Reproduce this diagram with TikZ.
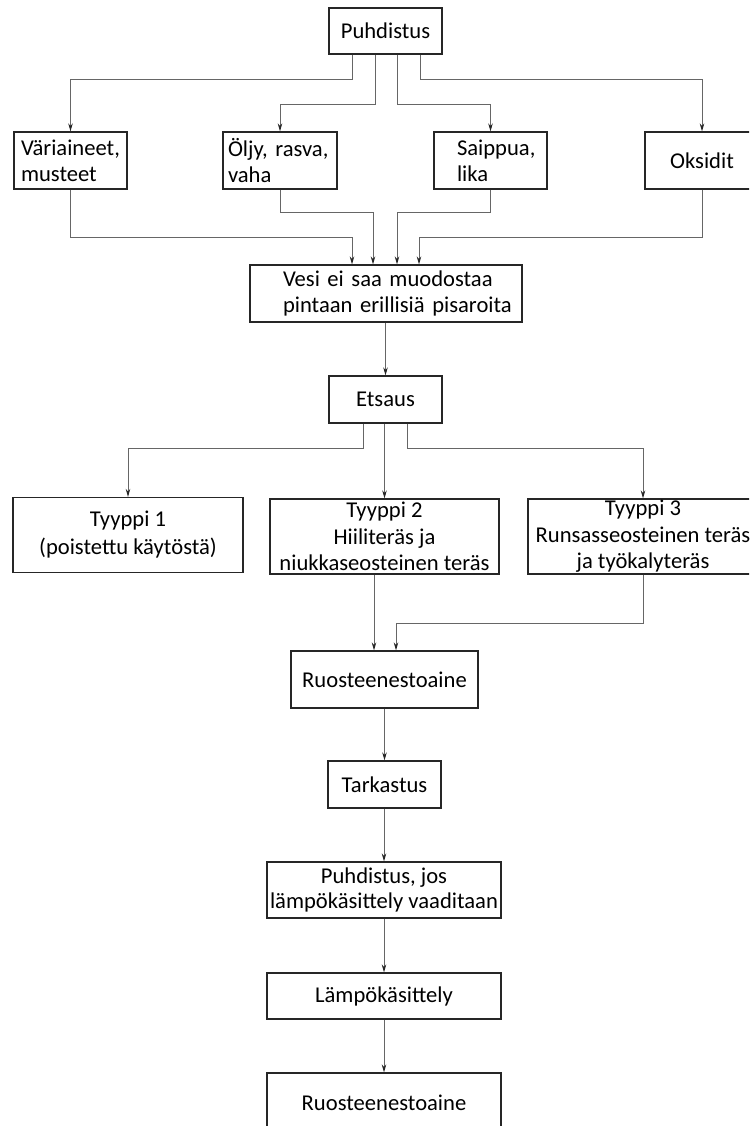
\documentclass[tikz,border=0pt]{standalone}
\usepackage{fontspec}
\setmainfont{Carlito}
\usetikzlibrary{arrows.meta}
\begin{document}
\begin{tikzpicture}[x=1pt,y=-1pt,
  box/.style={draw=black!85, line width=1.2pt, inner sep=0pt,
    font=\fontsize{22.6}{26}\selectfont},
  lbox/.style={box, align=left},
  cbox/.style={box, align=center},
  conn/.style={draw=black!60, line width=0.9pt, -{Stealth[length=8pt,width=4.5pt,color=black!85]}},
]
\useasboundingbox (0,0) rectangle (749,1126);
\clip (0,0) rectangle (749,1126);
\fill[white] (0,0) rectangle (749,1126);

% nodes
\node[cbox, minimum width=113pt, minimum height=46pt] (top) at (385.5,31) {Puhdistus};

\node[lbox, minimum width=113pt, minimum height=57pt, text width=99pt] (vari) at (70.5,160.5)
  {\mbox{Väriaineet,}\\\mbox{musteet}};
\node[lbox, minimum width=114pt, minimum height=57pt, text width=104pt] (olj) at (280,160.5)
  {\mbox{Öljy, rasva,}\\\mbox{vaha}};
\node[lbox, minimum width=113pt, minimum height=57pt, text width=67pt] (saip) at (490.5,160.5)
  {\mbox{Saippua,}\\\mbox{lika}};
\node[cbox, minimum width=114pt, minimum height=57pt] (oks) at (702,160.5) {Oksidit};

\node[lbox, minimum width=272pt, minimum height=57pt, text width=206pt] (vesi) at (386,293.5)
  {\mbox{Vesi ei saa muodostaa}\\\mbox{pintaan erillisiä pisaroita}};

\node[cbox, minimum width=113pt, minimum height=47pt] (ets) at (385.5,399.5) {Etsaus};

\node[cbox, minimum width=230pt, minimum height=75pt, font=\fontsize{22.6}{28}\selectfont] (t1) at (128,535)
  {Tyyppi 1\\(poistettu käytöstä)};
\node[cbox, minimum width=229pt, minimum height=75pt, font=\fontsize{22.6}{26.5}\selectfont] (t2) at (384.5,536.5)
  {Tyyppi 2\\Hiiliteräs ja\\niukkaseosteinen teräs};
\node[cbox, minimum width=230pt, minimum height=75pt, font=\fontsize{22.6}{26.5}\selectfont] (t3) at (643,536.5)
  {Tyyppi 3\\Runsasseosteinen teräs\\ja työkalyteräs};

\node[cbox, minimum width=187pt, minimum height=57pt] (r1) at (384.5,679.5) {Ruosteenestoaine};
\node[cbox, minimum width=113pt, minimum height=47pt] (tark) at (384.5,784.5) {Tarkastus};
\node[cbox, minimum width=234pt, minimum height=56pt, font=\fontsize{22.6}{25.5}\selectfont] (pj) at (384,890)
  {Puhdistus, jos\\lämpökäsittely vaaditaan};
\node[cbox, minimum width=234pt, minimum height=46pt] (lampo) at (384,996) {Lämpökäsittely};
\node[cbox, minimum width=234pt, minimum height=60pt] (r2) at (384,1103) {Ruosteenestoaine};

% connectors: top to row 1
\draw[conn] ([xshift=-33.5pt]top.south) -- ++(0,25) -| (vari.north);
\draw[conn] ([xshift=-10.5pt]top.south) -- ++(0,50) -| (olj.north);
\draw[conn] ([xshift=11.5pt]top.south) -- ++(0,50) -| (saip.north);
\draw[conn] ([xshift=34.5pt]top.south) -- ++(0,25) -| (oks.north);

% row 1 to vesi
\draw[conn] (vari.south) -- ++(0,48) -| ([xshift=-34pt]vesi.north);
\draw[conn] (olj.south) -- ++(0,23) -| ([xshift=-13pt]vesi.north);
\draw[conn] (saip.south) -- ++(0,23) -| ([xshift=11pt]vesi.north);
\draw[conn] (oks.south) -- ++(0,48) -| ([xshift=33pt]vesi.north);

% vesi to etsaus
\draw[conn] (ets.north |- vesi.south) -- (ets.north);

% etsaus to types
\draw[conn] ([xshift=-22.5pt]ets.south) -- ++(0,25) -| (t1.north);
\draw[conn] (t2.north |- ets.south) -- (t2.north);
\draw[conn] ([xshift=21.5pt]ets.south) -- ++(0,25) -| (t3.north);

% types to r1
\draw[conn] ([xshift=-10.5pt]t2.south) -- ([xshift=-10.5pt]r1.north);
\draw[conn] (t3.south) -- ++(0,49) -| ([xshift=11.5pt]r1.north);

% vertical chain
\draw[conn] (r1.south) -- (tark.north);
\draw[conn] (pj.north |- tark.south) -- (pj.north);
\draw[conn] (pj.south) -- (lampo.north);
\draw[conn] (lampo.south) -- (r2.north);
\end{tikzpicture}
\end{document}
